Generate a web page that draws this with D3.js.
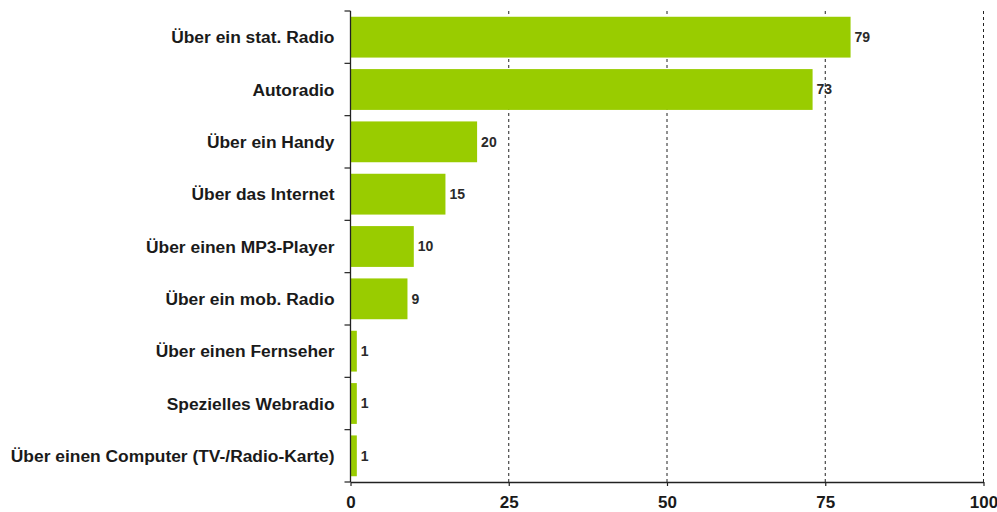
<!DOCTYPE html>
<html>
<head>
<meta charset="utf-8">
<script src="https://cdn.jsdelivr.net/npm/d3@7"></script>
<style>
  html, body { margin: 0; padding: 0; background: #fff; }
  svg { display: block; }
  text { font-family: "Liberation Sans", Arial, sans-serif; font-weight: bold; }
</style>
</head>
<body>
<svg id="chart" width="997" height="512"></svg>
<script>
// Nutzungswege des Radios (Angaben in %)
const categories = [
  "Über ein stat. Radio",
  "Autoradio",
  "Über ein Handy",
  "Über das Internet",
  "Über einen MP3-Player",
  "Über ein mob. Radio",
  "Über einen Fernseher",
  "Spezielles Webradio",
  "Über einen Computer (TV-/Radio-Karte)"
];
const values = [79, 73, 20, 15, 10, 9, 1, 1, 1];
const xTicks = [0, 25, 50, 75, 100];

const svg = d3.select("#chart");
const margin = { top: 11, right: 13, bottom: 30, left: 350.5 };
const width = 997 - margin.left - margin.right;
const height = 512 - margin.top - margin.bottom;

const g = svg.append("g").attr("transform", `translate(${margin.left},${margin.top})`);

const x = d3.scaleLinear().domain([0, 100]).range([0, 633]);
const y = d3.scaleBand().domain(categories).range([0, height]).paddingInner(0.22).paddingOuter(0.11);

// dashed vertical gridlines
g.selectAll("line.grid")
  .data(xTicks.filter(t => t > 0))
  .join("line")
  .attr("class", "grid")
  .attr("x1", d => x(d)).attr("x2", d => x(d))
  .attr("y1", 0).attr("y2", height)
  .attr("stroke", "#222")
  .attr("stroke-width", 1)
  .attr("stroke-dasharray", "3,3");

// bars
g.selectAll("rect.bar")
  .data(values)
  .join("rect")
  .attr("class", "bar")
  .attr("x", x(0))
  .attr("y", (d, i) => y(categories[i]))
  .attr("width", d => x(d) - x(0))
  .attr("height", y.bandwidth())
  .attr("fill", "#99cc00");

// value labels
g.selectAll("text.val")
  .data(values)
  .join("text")
  .attr("class", "val")
  .attr("x", d => x(d) + 4)
  .attr("y", (d, i) => y(categories[i]) + y.bandwidth() / 2)
  .attr("dy", "0.35em")
  .attr("font-size", 14)
  .attr("fill", "#2a2a2a")
  .text(d => d);

// y axis: line plus ticks at the band boundaries
const boundaries = d3.range(categories.length + 1).map(i => i * height / categories.length);
g.append("line")
  .attr("x1", 0).attr("x2", 0).attr("y1", 0).attr("y2", height)
  .attr("stroke", "#222").attr("stroke-width", 1.3);
g.selectAll("line.ytick")
  .data(boundaries)
  .join("line")
  .attr("class", "ytick")
  .attr("x1", -6).attr("x2", 0)
  .attr("y1", d => d).attr("y2", d => d)
  .attr("stroke", "#222").attr("stroke-width", 1.2);

// category labels
g.selectAll("text.cat")
  .data(categories)
  .join("text")
  .attr("class", "cat")
  .attr("x", -16)
  .attr("y", d => y(d) + y.bandwidth() / 2)
  .attr("dy", "0.35em")
  .attr("text-anchor", "end")
  .attr("font-size", 17.4)
  .attr("fill", "#1a1a1a")
  .text(d => d);

// x axis
const xAxis = d3.axisBottom(x).tickValues(xTicks).tickSize(4).tickPadding(10).tickSizeOuter(0);
const ax = g.append("g").attr("transform", `translate(0,${height})`).call(xAxis);
ax.select(".domain").attr("stroke", "#222").attr("stroke-width", 1.3);
ax.selectAll(".tick line").attr("stroke", "#222").attr("stroke-width", 1.2);
ax.selectAll(".tick text")
  .attr("font-size", 17)
  .attr("font-family", "Liberation Sans, Arial, sans-serif")
  .attr("font-weight", "bold")
  .attr("fill", "#1a1a1a");
</script>
</body>
</html>
